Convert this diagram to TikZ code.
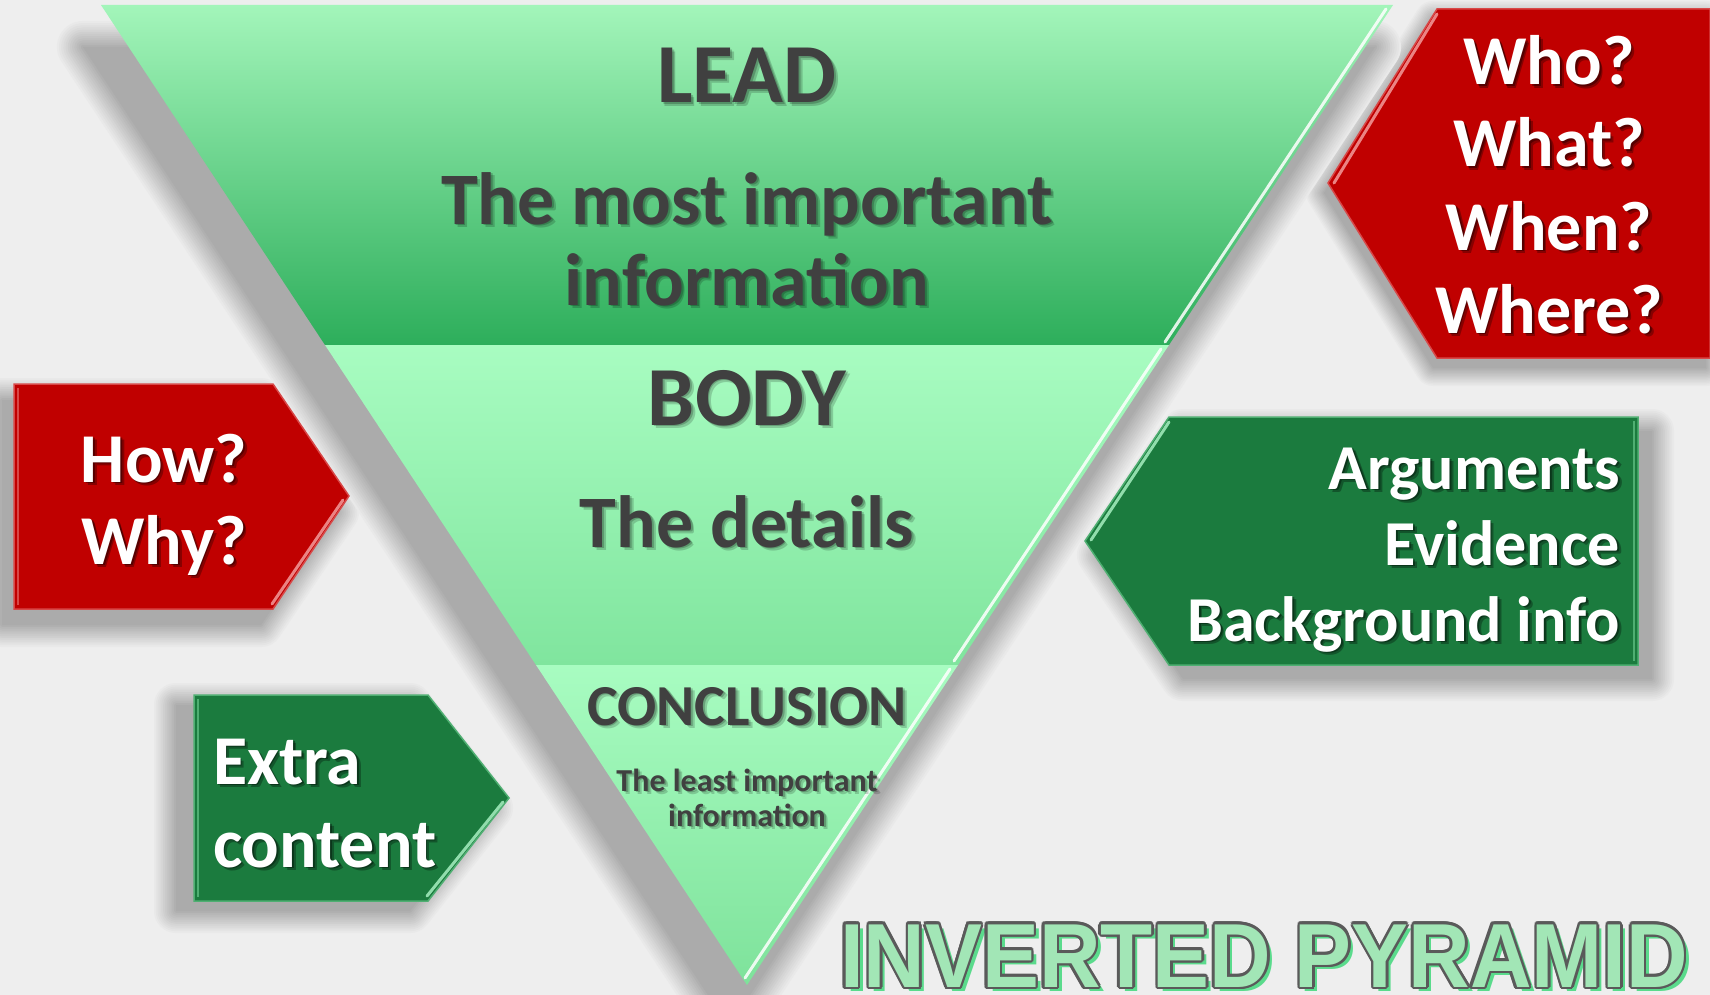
\documentclass[tikz,border=0pt]{standalone}
\usepackage{fontspec}
\usepackage{graphicx}
\setmainfont{Carlito}
\newfontfamily\titlefont{Liberation Sans}
\usetikzlibrary{calc}
\definecolor{bg}{HTML}{EEEEEE}
\definecolor{shadowc}{HTML}{ABABAB}
\definecolor{leadtop}{HTML}{A3F5BA}
\definecolor{leadmid}{HTML}{80DA9C}
\definecolor{leadbot}{HTML}{2DAE5B}
\definecolor{bodytop}{HTML}{A8FCC1}
\definecolor{bodybot}{HTML}{80E59E}
\definecolor{conbot}{HTML}{7EE29B}
\definecolor{redbox}{HTML}{C00000}
\definecolor{redhi}{HTML}{F39A9A}
\definecolor{redline}{HTML}{D84848}
\definecolor{greenbox}{HTML}{1B7B3E}
\definecolor{greenhi}{HTML}{A6EFC0}
\definecolor{greenline}{HTML}{4FAF72}
\definecolor{darktext}{HTML}{404040}
\definecolor{titlefill}{HTML}{A2E6B6}
\definecolor{titleline}{HTML}{5A5A5A}
\definecolor{titleshadow}{HTML}{5ADB8C}
\tikzset{
  lbl/.style={inner sep=0pt, outer sep=0pt, anchor=base},
  hiline/.style={line width=3pt, line cap=round, opacity=0.85},
}
% blurred shadow made of solid strokes: #1 dx, #2 dy, #3 blur radius, #4 path
\newcommand\blurshadow[4]{%
  \begin{scope}[shift={(#1,#2)}]
    \foreach \k in {12,11,10,9,8,7,6,5,4,3,2,1}{%
      \pgfmathsetmacro\lw{\k*#3/6}%
      \pgfmathtruncatemacro\pct{(13-\k)*100/13}%
      \draw[shadowc!\pct!bg, line join=round, line width=\lw pt] #4;
    }%
    \fill[shadowc] #4;
  \end{scope}%
}
% text with soft shadow: [anchor]{name}{pos}{size}{colour}{shadow opacity}{text}
\newcommand\stext[7][base]{%
  \pgfmathsetmacro\sopA{#6*0.5}\pgfmathsetmacro\sopB{#6*0.6}%
  \node[lbl, anchor=#1, font=\fontsize{#4}{#4}\selectfont\bfseries, text=black, text opacity=\sopA] (#2t) at ($(#3)+(3.5,3.5)$) {#7};
  \node[lbl, anchor=#1, font=\fontsize{#4}{#4}\selectfont\bfseries, text=black, text opacity=\sopB] (#2s) at ($(#3)+(1.8,1.8)$) {#7};
  \node[lbl, anchor=#1, font=\fontsize{#4}{#4}\selectfont\bfseries, text=#5] (#2) at (#3) {#7};
}
\begin{document}
\begin{tikzpicture}[x=1pt,y=-1pt]
\fill[bg] (0,0) rectangle (1710,995);
\useasboundingbox (0,0) rectangle (1710,995);

% ---------- shadows ----------
\blurshadow{-4}{10}{18}{(1437,9) -- (1710,9) -- (1710,358) -- (1437,358) -- (1328,183) -- cycle}
\blurshadow{-12}{16}{22}{(14,384) -- (273,384) -- (349,496) -- (273,609) -- (14,609) -- cycle}
\blurshadow{14}{14}{22}{(1169,417) -- (1638,417) -- (1638,665) -- (1169,665) -- (1085,541) -- cycle}
\blurshadow{-18}{10}{22}{(194,695) -- (428,695) -- (509,798) -- (428,901) -- (194,901) -- cycle}
\blurshadow{-18}{42}{26}{(101,5) -- (1393,5) -- (747,985) -- cycle}

% ---------- pyramid ----------
\shade[top color=leadtop, middle color=leadmid, bottom color=leadbot]
  (101,5) -- (1393,5) -- (1169,345) -- (325,345) -- cycle;
\shade[top color=bodytop, bottom color=bodybot]
  (325,345) -- (1169,345) -- (958,665) -- (536,665) -- cycle;
\shade[top color=bodytop, bottom color=conbot]
  (536,665) -- (958,665) -- (747,985) -- cycle;
% bevel highlights on the right edge
\draw[hiline, white] (1386,9) -- (1165,342);
\draw[hiline, white] (1161,349) -- (954,661);
\draw[hiline, white] (950,669) -- (745,978);

% ---------- side boxes ----------
\fill[redbox, draw=redline, line width=1.5pt]
  (1437,9) -- (1710,9) -- (1710,358) -- (1437,358) -- (1328,183) -- cycle;
\draw[hiline, redhi] (1437,14) -- (1334,183);

\fill[redbox, draw=redline, line width=1.5pt]
  (14,384) -- (273,384) -- (349,496) -- (273,609) -- (14,609) -- cycle;
\draw[hiline, redhi] (343,500) -- (272,604);
\draw[line width=2pt, redline] (18,388) -- (18,605);

\fill[greenbox, draw=greenline, line width=1.5pt]
  (1169,417) -- (1638,417) -- (1638,665) -- (1169,665) -- (1085,541) -- cycle;
\draw[hiline, greenhi] (1169,422) -- (1091,540);
\draw[line width=2pt, greenline] (1634,421) -- (1634,661);

\fill[greenbox, draw=greenline, line width=1.5pt]
  (194,695) -- (428,695) -- (509,798) -- (428,901) -- (194,901) -- cycle;
\draw[hiline, greenhi] (503,802) -- (427,896);
\draw[line width=2pt, greenline] (198,699) -- (198,897);

% ---------- pyramid texts ----------
\stext{lead}{747,103}{84}{darktext}{0.35}{LEAD}
\stext{leadA}{747,224}{74}{darktext}{0.35}{The most important}
\stext{leadB}{747,305}{74}{darktext}{0.35}{information}
\stext{body}{747,425}{84}{darktext}{0.35}{BODY}
\stext{bodyA}{747,547}{74}{darktext}{0.35}{The details}
\stext{concl}{747,725}{58}{darktext}{0.35}{CONCLUSION}
\stext{conclA}{747,791}{32}{darktext}{0.35}{The least important}
\stext{conclB}{747,826}{32}{darktext}{0.35}{information}

% ---------- box texts ----------
\stext{who}{1549,85}{70}{white}{0.6}{Who?}
\stext{what}{1549,167}{70}{white}{0.6}{What?}
\stext{when}{1549,250}{70}{white}{0.6}{When?}
\stext{where}{1549,333}{70}{white}{0.6}{Where?}

\stext{how}{164,482}{70}{white}{0.6}{How?}
\stext{why}{164,564}{70}{white}{0.6}{Why?}

\stext[base east]{arg}{1620,489}{64}{white}{0.6}{Arguments}
\stext[base east]{evid}{1620,565}{64}{white}{0.6}{Evidence}
\stext[base east]{backg}{1620,641}{64}{white}{0.6}{Background info}

\stext[base west]{extra}{213,784}{70}{white}{0.6}{Extra}
\stext[base west]{content}{213,867}{70}{white}{0.6}{content}

% ---------- title ----------
\tikzset{titletxt/.style={inner sep=0pt, outer sep=0pt, anchor=base west,
  font=\titlefont\bfseries\fontsize{91}{91}\selectfont}}
\node[titletxt, text=titleshadow] (titleS) at (845,991) {\scalebox{0.937}[1]{INVERTED PYRAMID}};
\foreach \a [count=\i] in {0,30,...,330}{
  \node[titletxt, text=titleline] (titleO\i) at ($(840,987)+(\a:2.6)$) {\scalebox{0.937}[1]{INVERTED PYRAMID}};
}
\node[titletxt, text=titlefill] (title) at (840,987) {\scalebox{0.937}[1]{INVERTED PYRAMID}};
\end{tikzpicture}
\end{document}
